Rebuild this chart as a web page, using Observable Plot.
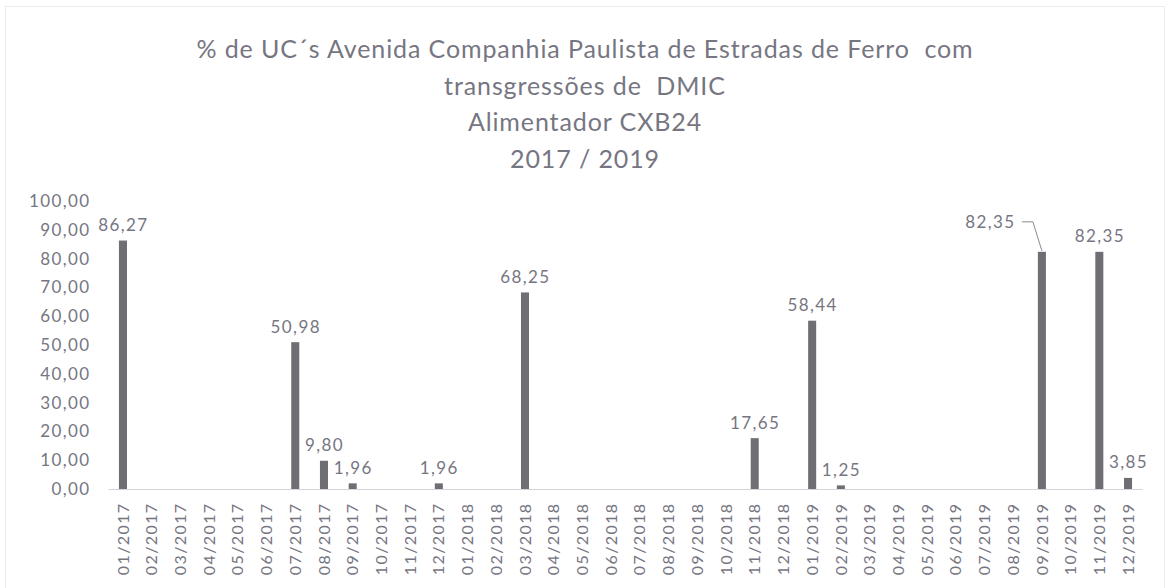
<!DOCTYPE html>
<html>
<head>
<meta charset="utf-8">
<script src="https://cdn.jsdelivr.net/npm/d3@7"></script>
<script src="https://cdn.jsdelivr.net/npm/@observablehq/plot@0.6"></script>
<style>
  html, body { margin: 0; padding: 0; background: #fff; }
  #wrap { position: relative; width: 1170px; height: 588px; overflow: hidden; font-family: Lato, "Open Sans", sans-serif; }
  #frame { position: absolute; left: 5px; top: 6px; width: 1160px; height: 600px; border: 1px solid #ebebef; box-sizing: border-box; pointer-events: none; }
  #title { height: 180px; box-sizing: border-box; padding-top: 30px; text-align: center; color: #767682; font-size: 25px; line-height: 36.5px; letter-spacing: 0.9px; }
  #chart svg { display: block; }
</style>
</head>
<body>
<div id="wrap">
  <div id="frame"></div>
  <div id="title">
    <div>% de UC´s Avenida Companhia Paulista de Estradas de Ferro&nbsp; com</div>
    <div>transgressões de&nbsp; DMIC</div>
    <div>Alimentador CXB24</div>
    <div>2017 / 2019</div>
  </div>
  <div id="chart"></div>
</div>
<script>
const months = [
  "01/2017","02/2017","03/2017","04/2017","05/2017","06/2017","07/2017","08/2017","09/2017","10/2017","11/2017","12/2017",
  "01/2018","02/2018","03/2018","04/2018","05/2018","06/2018","07/2018","08/2018","09/2018","10/2018","11/2018","12/2018",
  "01/2019","02/2019","03/2019","04/2019","05/2019","06/2019","07/2019","08/2019","09/2019","10/2019","11/2019","12/2019"
];
const values = [
  86.27, null, null, null, null, null, 50.98, 9.80, 1.96, null, null, 1.96,
  null, null, 68.25, null, null, null, null, null, null, null, 17.65, null,
  58.44, 1.25, null, null, null, null, null, null, 82.35, null, 82.35, 3.85
];
const yTicks = [0, 10, 20, 30, 40, 50, 60, 70, 80, 90, 100];
const calloutMonth = "09/2019";

const data = months.map((m, i) => ({month: m, value: values[i]}));
const present = data.filter(d => d.value != null);
const fmt = v => v.toFixed(2).replace(".", ",");

const textColor = "#767682";
const barColor = "#6e6e75";

function leader(index, scales) {
  const x = scales.x, y = scales.y;
  const bw = typeof x.bandwidth === "function" ? x.bandwidth() : (x.bandwidth || 0);
  const ns = "http://www.w3.org/2000/svg";
  const g = document.createElementNS(ns, "g");
  for (const d of present.filter(d => d.month === calloutMonth)) {
    const cx = x(d.month) + bw / 2;
    const cy = y(d.value);
    const p = document.createElementNS(ns, "path");
    p.setAttribute("d", `M${cx - 20},${cy - 30}H${cx - 9}L${cx},${cy - 1}`);
    p.setAttribute("fill", "none");
    p.setAttribute("stroke", "#8a8a94");
    p.setAttribute("stroke-width", "1");
    g.appendChild(p);
  }
  return g;
}

const chart = Plot.plot({
  width: 1170,
  height: 408,
  marginLeft: 108.6,
  marginRight: 27.6,
  marginTop: 21,
  marginBottom: 99,
  style: {fontFamily: "Lato, 'Open Sans', sans-serif", fontSize: "17px", color: textColor, background: "transparent", letterSpacing: "1.4px"},
  x: {domain: months, round: false, paddingInner: 0.72, paddingOuter: 0.36, label: null, tickRotate: -90, tickSize: 0, tickPadding: 13},
  y: {domain: [0, 100], ticks: yTicks, tickFormat: fmt, label: null, tickSize: 0, tickPadding: 18.5},
  marks: [
    Plot.ruleY([0], {stroke: "#d4d4da", strokeWidth: 1}),
    Plot.barY(present, {x: "month", y: "value", fill: barColor}),
    Plot.axisX({tickRotate: -90, tickSize: 0, tickPadding: 13, fontSize: 16, label: null}),
    Plot.text(present.filter(d => d.month !== calloutMonth), {
      x: "month", y: "value", text: d => fmt(d.value),
      dy: -10, lineAnchor: "bottom", fill: textColor, fontSize: 17
    }),
    Plot.text(present.filter(d => d.month === calloutMonth), {
      x: "month", y: "value", text: d => fmt(d.value),
      dx: -52, dy: -30, fill: textColor, fontSize: 17
    }),
    leader
  ]
});
document.getElementById("chart").appendChild(chart);
</script>
</body>
</html>
